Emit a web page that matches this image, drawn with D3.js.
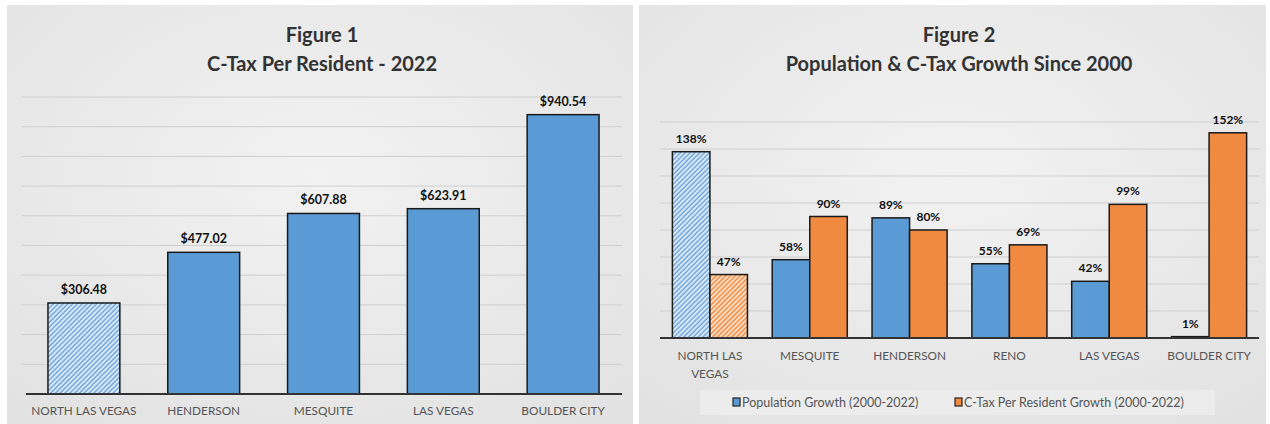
<!DOCTYPE html>
<html>
<head>
<meta charset="utf-8">
<script src="https://cdn.jsdelivr.net/npm/d3@7"></script>
<style>
  body { margin: 0; background: #fff; }
  svg { display: block; }
</style>
</head>
<body>
<div id="chart"></div>
<script>
// Figure 1 data
const fig1Cities = ["NORTH LAS VEGAS", "HENDERSON", "MESQUITE", "LAS VEGAS", "BOULDER CITY"];
const fig1Values = [306.48, 477.02, 607.88, 623.91, 940.54];
const fig1Ticks = [0, 100, 200, 300, 400, 500, 600, 700, 800, 900, 1000];

// Figure 2 data
const fig2Cities = ["NORTH LAS VEGAS", "MESQUITE", "HENDERSON", "RENO", "LAS VEGAS", "BOULDER CITY"];
const popGrowth = [138, 58, 89, 55, 42, 1];
const ctaxGrowth = [47, 90, 80, 69, 99, 152];
const fig2Ticks = [0, 20, 40, 60, 80, 100, 120, 140, 160];
const seriesNames = ["Population Growth (2000-2022)", "C-Tax Per Resident Growth (2000-2022)"];

const blue = "#5b9bd5", orange = "#f08a40";
const width = 1270, height = 424;
const font = "Lato, 'Open Sans', sans-serif";

const svg = d3.select("#chart").append("svg")
  .attr("width", width)
  .attr("height", height);

const defs = svg.append("defs");

// panel shading
const bg = defs.append("radialGradient").attr("id", "panelBg")
  .attr("cx", "50%").attr("cy", "40%").attr("r", "75%");
bg.append("stop").attr("offset", "0%").attr("stop-color", "#f2f2f2");
bg.append("stop").attr("offset", "100%").attr("stop-color", "#e2e2e2");

// hatch patterns for North Las Vegas
function hatch(id, base, stripe) {
  const p = defs.append("pattern").attr("id", id)
    .attr("patternUnits", "userSpaceOnUse")
    .attr("width", 3.4).attr("height", 3.4)
    .attr("patternTransform", "rotate(45)");
  p.append("rect").attr("width", 3.4).attr("height", 3.4).attr("fill", base);
  p.append("line").attr("x1", 1).attr("y1", 0).attr("x2", 1).attr("y2", 3.4)
    .attr("stroke", stripe).attr("stroke-width", 1.4);
}
hatch("hatchBlue", "#d9e8f7", "#6ea5d9");
hatch("hatchOrange", "#fcdcc2", "#f08a40");

svg.append("rect").attr("x", 7).attr("y", 5).attr("width", 626).attr("height", 419)
  .attr("fill", "url(#panelBg)");
svg.append("rect").attr("x", 639).attr("y", 5).attr("width", 627).attr("height", 419)
  .attr("fill", "url(#panelBg)");

function titles(cx, lines) {
  svg.append("g").selectAll("text")
    .data(lines)
    .join("text")
    .attr("x", cx)
    .attr("y", (d, i) => 42 + i * 29)
    .attr("text-anchor", "middle")
    .attr("font-family", font)
    .attr("font-weight", "bold")
    .attr("font-size", 20)
    .attr("fill", "#333")
    .text(d => d);
}

function wrap(sel, w) {
  sel.each(function () {
    const t = d3.select(this);
    const words = t.text().split(" ");
    const x = t.attr("x"), y = t.attr("y");
    t.text(null);
    let line = [], tspan = t.append("tspan").attr("x", x).attr("y", y), row = 0;
    words.forEach(word => {
      line.push(word);
      tspan.text(line.join(" "));
      if (tspan.node().getComputedTextLength() > w && line.length > 1) {
        line.pop();
        tspan.text(line.join(" "));
        line = [word];
        row++;
        tspan = t.append("tspan").attr("x", x).attr("y", +y + row * 18).text(word);
      }
    });
  });
}

// ---------- Figure 1 ----------
titles(322, ["Figure 1", "C-Tax Per Resident - 2022"]);

const x1 = d3.scaleBand()
  .domain(fig1Cities)
  .range([24, 623])
  .paddingInner(0.4)
  .paddingOuter(0.2);
const y1 = d3.scaleLinear().domain([0, 1000]).range([394, 97]);

svg.append("g").selectAll("line")
  .data(fig1Ticks.slice(1))
  .join("line")
  .attr("x1", 22).attr("x2", 622)
  .attr("y1", d => y1(d)).attr("y2", d => y1(d))
  .attr("stroke", "#cfcfcf").attr("stroke-width", 1);

svg.append("g").selectAll("rect")
  .data(fig1Values)
  .join("rect")
  .attr("x", (d, i) => x1(fig1Cities[i]))
  .attr("y", d => y1(d))
  .attr("width", x1.bandwidth())
  .attr("height", d => y1(0) - y1(d))
  .attr("fill", (d, i) => i === 0 ? "url(#hatchBlue)" : blue)
  .attr("stroke", "#1a1a1a")
  .attr("stroke-width", 1.5);

svg.append("line")
  .attr("x1", 26).attr("x2", 622)
  .attr("y1", y1(0)).attr("y2", y1(0))
  .attr("stroke", "#333").attr("stroke-width", 2);

svg.append("g").selectAll("text")
  .data(fig1Values)
  .join("text")
  .attr("x", (d, i) => x1(fig1Cities[i]) + x1.bandwidth() / 2)
  .attr("y", d => y1(d) - 9)
  .attr("text-anchor", "middle")
  .attr("font-family", font)
  .attr("font-weight", "bold")
  .attr("font-size", 12.5)
  .attr("fill", "#111")
  .text(d => "$" + d3.format(".2f")(d));

svg.append("g").selectAll("text")
  .data(fig1Cities)
  .join("text")
  .attr("x", d => x1(d) + x1.bandwidth() / 2)
  .attr("y", 415)
  .attr("text-anchor", "middle")
  .attr("font-family", font)
  .attr("font-size", 11.8)
  .attr("fill", "#555")
  .text(d => d);

// ---------- Figure 2 ----------
titles(959, ["Figure 2", "Population & C-Tax Growth Since 2000"]);

const x2 = d3.scaleBand().domain(fig2Cities).range([660, 1259]);
const xs = d3.scaleBand().domain(["pop", "ctax"]).range([0, x2.bandwidth()]).paddingOuter(0.33);
const y2 = d3.scaleLinear().domain([0, 160]).range([338, 122]);

svg.append("g").selectAll("line")
  .data(fig2Ticks.slice(1))
  .join("line")
  .attr("x1", 660).attr("x2", 1259)
  .attr("y1", d => y2(d)).attr("y2", d => y2(d))
  .attr("stroke", "#cfcfcf").attr("stroke-width", 1);

const groups = fig2Cities.map((c, i) => ({ city: c, i, pop: popGrowth[i], ctax: ctaxGrowth[i] }));
const bars = groups.flatMap(g => [
  { city: g.city, i: g.i, key: "pop", v: g.pop },
  { city: g.city, i: g.i, key: "ctax", v: g.ctax }
]);

svg.append("g").selectAll("rect")
  .data(bars)
  .join("rect")
  .attr("x", d => x2(d.city) + xs(d.key))
  .attr("y", d => y2(d.v))
  .attr("width", xs.bandwidth())
  .attr("height", d => y2(0) - y2(d.v))
  .attr("fill", d => d.i === 0
    ? (d.key === "pop" ? "url(#hatchBlue)" : "url(#hatchOrange)")
    : (d.key === "pop" ? blue : orange))
  .attr("stroke", "#1a1a1a")
  .attr("stroke-width", 1.5);

svg.append("line")
  .attr("x1", 660).attr("x2", 1259)
  .attr("y1", y2(0)).attr("y2", y2(0))
  .attr("stroke", "#333").attr("stroke-width", 2);

svg.append("g").selectAll("text")
  .data(bars)
  .join("text")
  .attr("x", d => x2(d.city) + xs(d.key) + xs.bandwidth() / 2)
  .attr("y", d => y2(d.v) - 9)
  .attr("text-anchor", "middle")
  .attr("font-family", font)
  .attr("font-weight", "bold")
  .attr("font-size", 12)
  .attr("fill", "#111")
  .text(d => d.v + "%");

svg.append("g").selectAll("text")
  .data(fig2Cities)
  .join("text")
  .attr("x", d => x2(d) + x2.bandwidth() / 2)
  .attr("y", 360)
  .attr("text-anchor", "middle")
  .attr("font-family", font)
  .attr("font-size", 11.8)
  .attr("fill", "#555")
  .text(d => d)
  .call(wrap, 90);

// legend
svg.append("rect")
  .attr("x", 700).attr("y", 390).attr("width", 515).attr("height", 25)
  .attr("fill", "#ececec");

const legendX = [733, 955];
const legend = svg.append("g").selectAll("g")
  .data(seriesNames)
  .join("g")
  .attr("transform", (d, i) => `translate(${legendX[i]},398)`);
legend.append("rect")
  .attr("width", 7).attr("height", 8)
  .attr("fill", (d, i) => i === 0 ? blue : orange)
  .attr("stroke", "#222").attr("stroke-width", 1.2);
legend.append("text")
  .attr("x", 9).attr("y", 8.5)
  .attr("font-family", font)
  .attr("font-size", 12.5)
  .attr("fill", "#555")
  .text(d => d);
</script>
</body>
</html>
